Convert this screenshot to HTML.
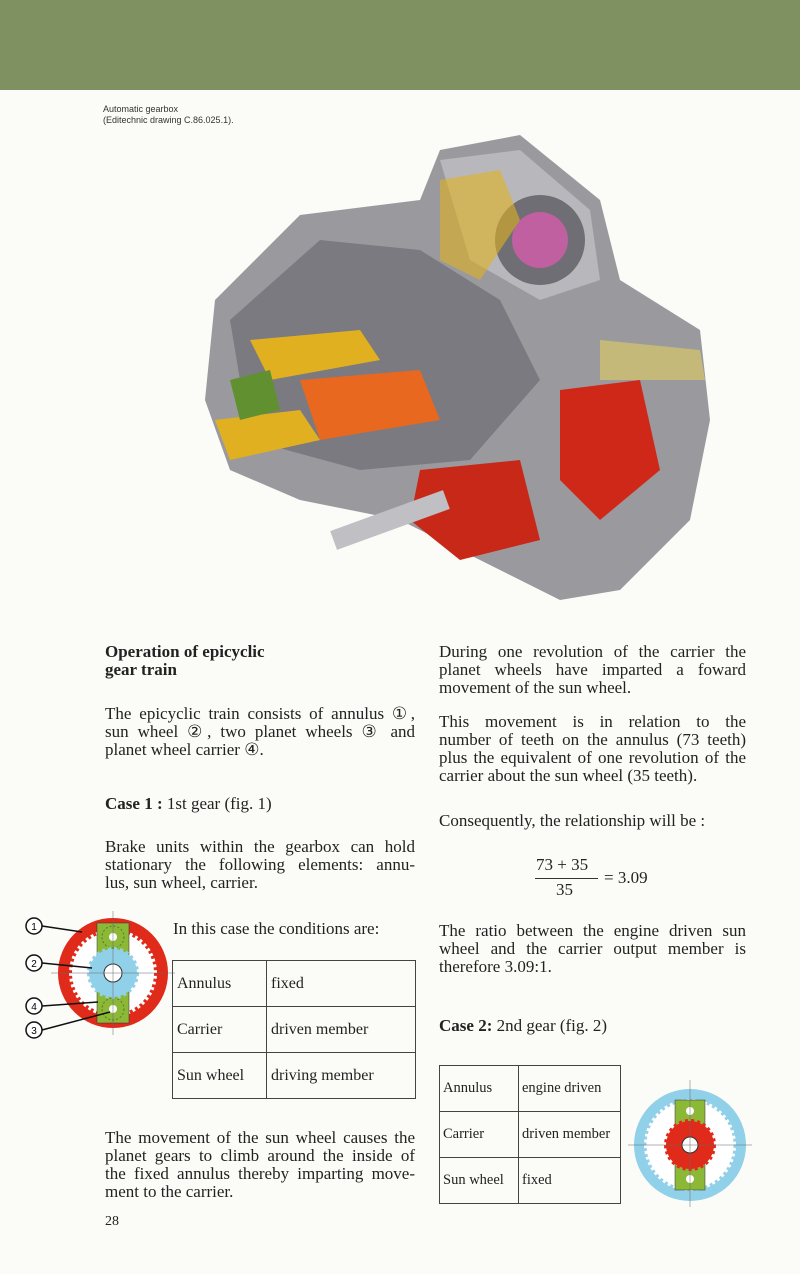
<!DOCTYPE html>
<html><head><meta charset="utf-8"><style>
body{margin:0;width:800px;height:1274px;background:#fbfbf8;position:relative;overflow:hidden;font-family:"Liberation Serif",serif;color:#222}
.t{position:absolute;font-size:17px;line-height:18px}
.t div{text-align:justify;text-align-last:justify;white-space:nowrap}
.t div.l{text-align-last:left}
.L{width:310px}.R{width:307px}
.s{position:absolute;font-family:"Liberation Sans",sans-serif;font-size:9px;line-height:11px;color:#333}
table{position:absolute;border-collapse:collapse;font-size:16px}
td{border:1px solid #444;padding:0 4px;height:45px;white-space:nowrap}
b{font-weight:bold}
</style></head><body>
<div style="position:absolute;left:0;top:0;width:800px;height:90px;background:#7f9160"></div>
<div class="s" style="left:103px;top:104px">Automatic gearbox<br>(Editechnic drawing C.86.025.1).</div>

<svg style="position:absolute;left:0;top:0" width="800" height="620">
<path d="M215 300 L300 215 L420 200 L440 150 L520 135 L600 200 L620 280 L700 330 L710 420 L690 520 L620 590 L560 600 L480 560 L400 520 L300 500 L230 470 L205 400 Z" fill="#9a9a9e"/>
<path d="M230 320 L320 240 L420 250 L500 300 L540 380 L470 460 L360 470 L250 440 Z" fill="#7a7a80"/>
<path d="M440 160 L520 150 L590 210 L600 280 L540 300 L470 260 Z" fill="#b8b8bc"/>
<circle cx="540" cy="240" r="45" fill="#6e6e74"/><circle cx="540" cy="240" r="28" fill="#c060a0"/>
<path d="M560 390 L640 380 L660 470 L600 520 L560 480 Z" fill="#d02818"/>
<path d="M420 470 L520 460 L540 540 L460 560 L410 520 Z" fill="#c82818"/>
<path d="M250 340 L360 330 L380 360 L270 380 Z" fill="#e0b020"/>
<path d="M300 380 L420 370 L440 420 L320 440 Z" fill="#e86820"/>
<path d="M215 420 L300 410 L320 440 L230 460 Z" fill="#e0b020"/>
<path d="M230 380 L270 370 L280 410 L240 420 Z" fill="#609030"/>
<path d="M600 340 L700 350 L705 380 L600 380 Z" fill="#d0c070" opacity=".8"/>
<rect x="330" y="510" width="120" height="20" fill="#c0c0c4" transform="rotate(-20 390 520)"/>
<path d="M440 180 L500 170 L520 220 L480 280 L440 260 Z" fill="#e0b020" opacity=".6"/>
<line x1="103" y1="622" x2="745" y2="622" stroke="#555" stroke-width="1"/>
</svg>

<div class="t" style="left:105px;top:643px"><b>Operation of epicyclic<br>gear train</b></div>
<div class="t L" style="left:105px;top:705px"><div>The epicyclic train consists of annulus ①,</div><div>sun wheel ②, two planet wheels ③ and</div><div class="l">planet wheel carrier ④.</div></div>
<div class="t" style="left:105px;top:795px"><b>Case 1 :</b> 1st gear (fig. 1)</div>
<div class="t L" style="left:105px;top:838px"><div>Brake units within the gearbox can hold</div><div>stationary the following elements: annu-</div><div class="l">lus, sun wheel, carrier.</div></div>
<div class="t" style="left:173px;top:920px">In this case the conditions are:</div>
<table style="left:172px;top:960px;width:244px"><tr><td style="width:85px">Annulus</td><td>fixed</td></tr><tr><td>Carrier</td><td>driven member</td></tr><tr><td>Sun wheel</td><td>driving member</td></tr></table>
<div class="t L" style="left:105px;top:1129px"><div>The movement of the sun wheel causes the</div><div>planet gears to climb around the inside of</div><div>the fixed annulus thereby imparting move-</div><div class="l">ment to the carrier.</div></div>
<div class="t" style="left:105px;top:1213px;font-size:14px">28</div>

<div class="t R" style="left:439px;top:643px"><div>During one revolution of the carrier the</div><div>planet wheels have imparted a foward</div><div class="l">movement of the sun wheel.</div></div>
<div class="t R" style="left:439px;top:713px"><div>This movement is in relation to the</div><div>number of teeth on the annulus (73 teeth)</div><div>plus the equivalent of one revolution of the</div><div class="l">carrier about the sun wheel (35 teeth).</div></div>
<div class="t" style="left:439px;top:812px">Consequently, the relationship will be :</div>
<div class="t" style="left:536px;top:856px">73 + 35</div>
<div style="position:absolute;left:535px;top:878px;width:63px;border-top:1px solid #333"></div>
<div class="t" style="left:556px;top:881px">35</div>
<div class="t" style="left:604px;top:869px">= 3.09</div>
<div class="t R" style="left:439px;top:922px"><div>The ratio between the engine driven sun</div><div>wheel and the carrier output member is</div><div class="l">therefore 3.09:1.</div></div>
<div class="t" style="left:439px;top:1017px"><b>Case 2:</b> 2nd gear (fig. 2)</div>
<table style="left:439px;top:1065px;width:182px;font-size:14.5px"><tr><td style="width:72px;padding:0 3px">Annulus</td><td style="padding:0 3px">engine driven</td></tr><tr><td style="padding:0 3px">Carrier</td><td style="padding:0 3px">driven member</td></tr><tr><td style="padding:0 3px">Sun wheel</td><td style="padding:0 3px">fixed</td></tr></table>

<svg style="position:absolute;left:0;top:0" width="800" height="1274">
<g transform="translate(113 973)">
<circle r="55" fill="#e02a1a"/><circle r="44" fill="#fff" stroke="#e02a1a" stroke-width="6" stroke-dasharray="3 3"/>
<rect x="-16" y="-50" width="32" height="100" fill="#8cb838" stroke="#333" stroke-width=".5"/>
<circle cy="-36" r="11" fill="#8cb838" stroke="#5a7a20" stroke-dasharray="2 2"/><circle cy="-36" r="4" fill="#fff"/>
<circle cy="36" r="11" fill="#8cb838" stroke="#5a7a20" stroke-dasharray="2 2"/><circle cy="36" r="4" fill="#fff"/>
<circle r="24" fill="#90d0e8" stroke="#90d0e8" stroke-width="4" stroke-dasharray="3 3"/><circle r="9" fill="#fff" stroke="#333"/>
<line x1="-62" y1="0" x2="62" y2="0" stroke="#666" stroke-width=".5"/><line x1="0" y1="-62" x2="0" y2="62" stroke="#666" stroke-width=".5"/>
</g>
<g stroke="#111" stroke-width="1.5" fill="#fff">
<line x1="42" y1="926" x2="82" y2="932"/><line x1="42" y1="963" x2="92" y2="968"/><line x1="42" y1="1006" x2="98" y2="1002"/><line x1="42" y1="1030" x2="110" y2="1012"/>
<circle cx="34" cy="926" r="8"/><circle cx="34" cy="963" r="8"/><circle cx="34" cy="1006" r="8"/><circle cx="34" cy="1030" r="8"/>
</g>
<g font-family="Liberation Sans" font-size="10" text-anchor="middle"><text x="34" y="930">1</text><text x="34" y="967">2</text><text x="34" y="1010">4</text><text x="34" y="1034">3</text></g>
<g transform="translate(690 1145)">
<circle r="56" fill="#90d0e8"/><circle r="46" fill="#fff" stroke="#90d0e8" stroke-width="5" stroke-dasharray="3 3"/>
<rect x="-15" y="-45" width="30" height="90" fill="#8cb838" stroke="#333" stroke-width=".5"/>
<circle cy="-34" r="10" fill="#8cb838"/><circle cy="-34" r="4" fill="#fff"/>
<circle cy="34" r="10" fill="#8cb838"/><circle cy="34" r="4" fill="#fff"/>
<circle r="24" fill="#e02a1a" stroke="#e02a1a" stroke-width="4" stroke-dasharray="3 3"/><circle r="8" fill="#fff" stroke="#333"/>
<line x1="-62" y1="0" x2="62" y2="0" stroke="#666" stroke-width=".5"/><line x1="0" y1="-65" x2="0" y2="62" stroke="#666" stroke-width=".5"/>
</g>
</svg>
</body></html>
